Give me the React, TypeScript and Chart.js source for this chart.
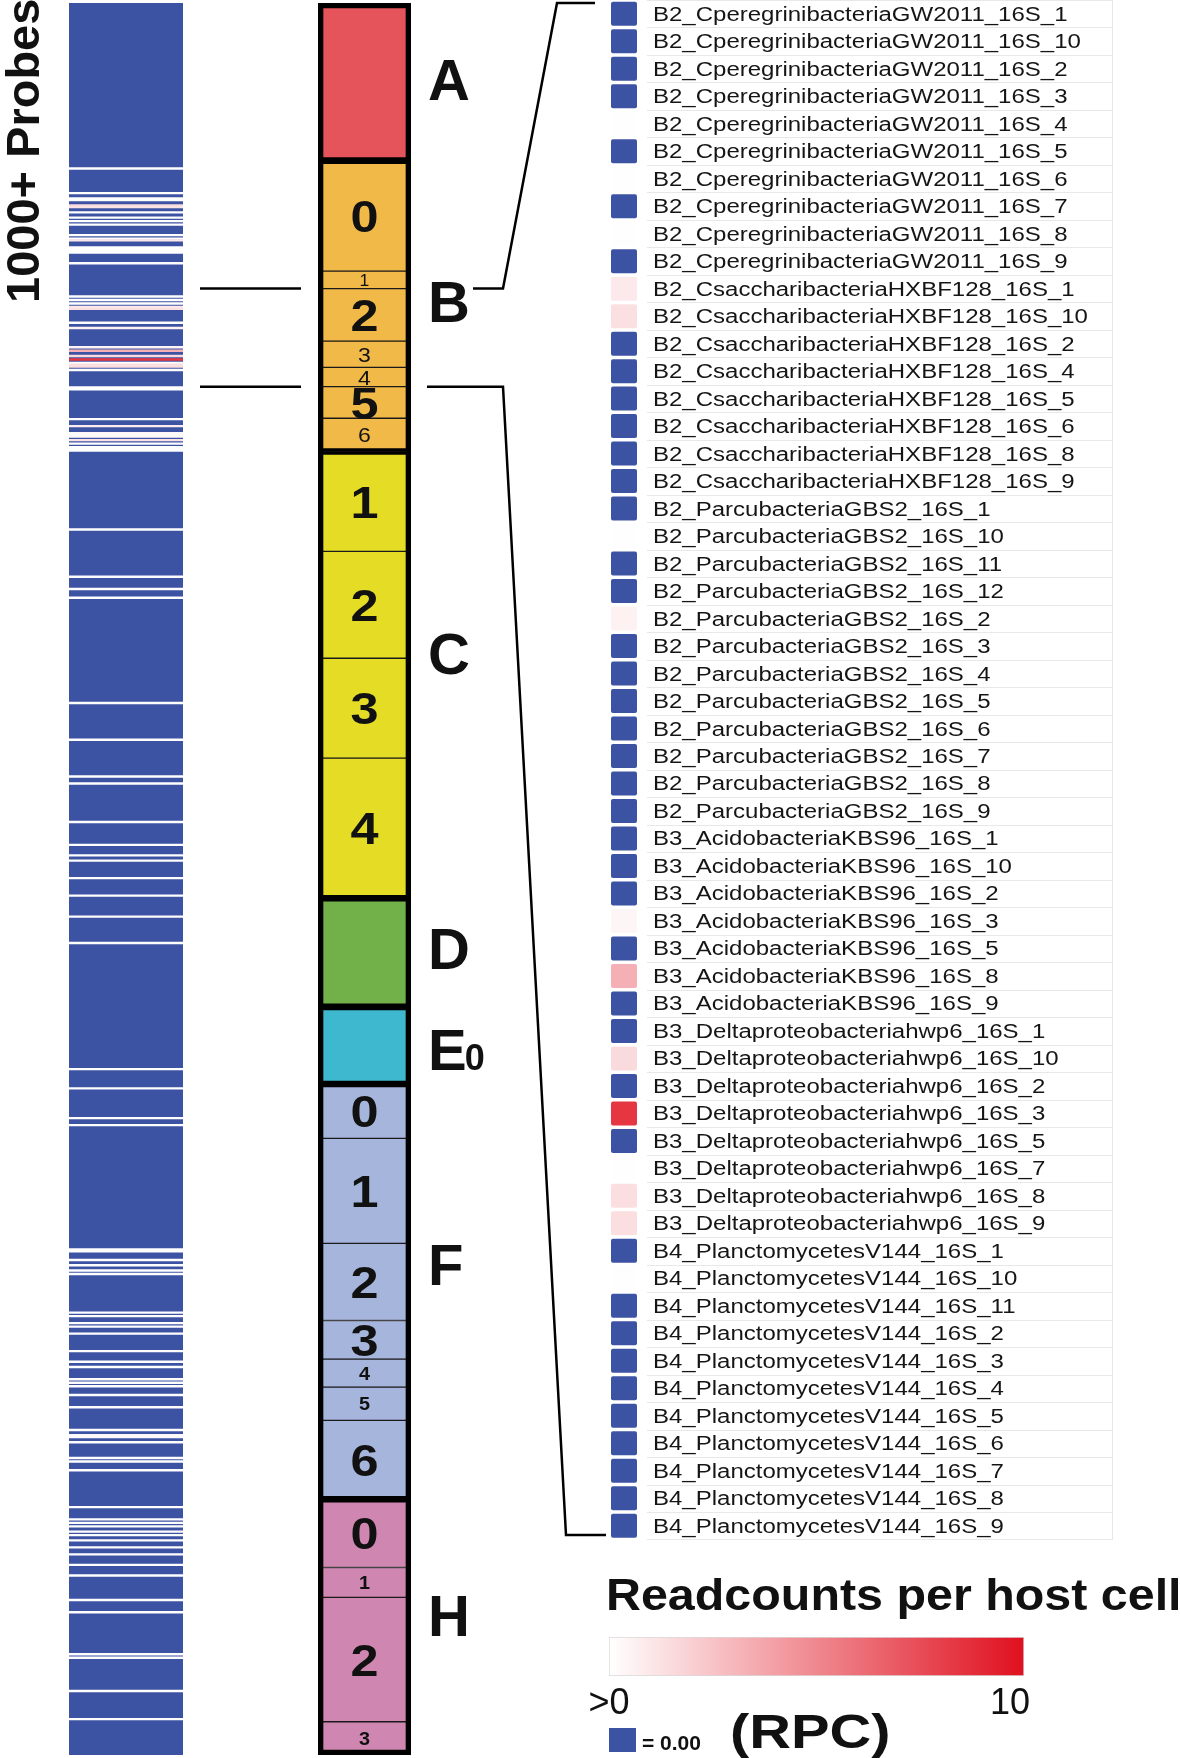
import React, { useEffect, useRef } from 'react';
import { Chart, registerables } from 'chart.js';

Chart.register(...registerables);

// ------------------------------------------------------------------ data
const probeTotal = 1000;
const stripTitle = '1000+ Probes';

// probe groups of the middle column (sizes in probes, top to bottom)
const subgroupGroups = ['A', 'B', 'B', 'B', 'B', 'B', 'B', 'B', 'C', 'C', 'C', 'C', 'D', 'E', 'F', 'F', 'F', 'F', 'F', 'F', 'F', 'H', 'H', 'H', 'H'];
const subgroupLabels = ['', '0', '1', '2', '3', '4', '5', '6', '1', '2', '3', '4', '', '', '0', '1', '2', '3', '4', '5', '6', '0', '1', '2', '3'];
const subgroupSizes = [90, 63, 10, 30, 15, 11, 18, 19, 57, 61, 57, 80, 62, 44, 31, 60, 44, 22, 16, 19, 45, 39, 17, 71, 19];

const groupNames = ['A', 'B', 'C', 'D', 'E', 'F', 'H'];
const groupSubscripts = ['', '', '', '', '0', '', ''];

// zoomed probes (B2, B3, B4), starting at this probe index
const zoomFirstProbe = 163;
const zoomProbeNames = [
  'B2_CperegrinibacteriaGW2011_16S_1', 'B2_CperegrinibacteriaGW2011_16S_10', 'B2_CperegrinibacteriaGW2011_16S_2',
  'B2_CperegrinibacteriaGW2011_16S_3', 'B2_CperegrinibacteriaGW2011_16S_4', 'B2_CperegrinibacteriaGW2011_16S_5',
  'B2_CperegrinibacteriaGW2011_16S_6', 'B2_CperegrinibacteriaGW2011_16S_7', 'B2_CperegrinibacteriaGW2011_16S_8',
  'B2_CperegrinibacteriaGW2011_16S_9',
  'B2_CsaccharibacteriaHXBF128_16S_1', 'B2_CsaccharibacteriaHXBF128_16S_10', 'B2_CsaccharibacteriaHXBF128_16S_2',
  'B2_CsaccharibacteriaHXBF128_16S_4', 'B2_CsaccharibacteriaHXBF128_16S_5', 'B2_CsaccharibacteriaHXBF128_16S_6',
  'B2_CsaccharibacteriaHXBF128_16S_8', 'B2_CsaccharibacteriaHXBF128_16S_9',
  'B2_ParcubacteriaGBS2_16S_1', 'B2_ParcubacteriaGBS2_16S_10', 'B2_ParcubacteriaGBS2_16S_11', 'B2_ParcubacteriaGBS2_16S_12',
  'B2_ParcubacteriaGBS2_16S_2', 'B2_ParcubacteriaGBS2_16S_3', 'B2_ParcubacteriaGBS2_16S_4', 'B2_ParcubacteriaGBS2_16S_5',
  'B2_ParcubacteriaGBS2_16S_6', 'B2_ParcubacteriaGBS2_16S_7', 'B2_ParcubacteriaGBS2_16S_8', 'B2_ParcubacteriaGBS2_16S_9',
  'B3_AcidobacteriaKBS96_16S_1', 'B3_AcidobacteriaKBS96_16S_10', 'B3_AcidobacteriaKBS96_16S_2', 'B3_AcidobacteriaKBS96_16S_3',
  'B3_AcidobacteriaKBS96_16S_5', 'B3_AcidobacteriaKBS96_16S_8', 'B3_AcidobacteriaKBS96_16S_9',
  'B3_Deltaproteobacteriahwp6_16S_1', 'B3_Deltaproteobacteriahwp6_16S_10', 'B3_Deltaproteobacteriahwp6_16S_2',
  'B3_Deltaproteobacteriahwp6_16S_3', 'B3_Deltaproteobacteriahwp6_16S_5', 'B3_Deltaproteobacteriahwp6_16S_7',
  'B3_Deltaproteobacteriahwp6_16S_8', 'B3_Deltaproteobacteriahwp6_16S_9',
  'B4_PlanctomycetesV144_16S_1', 'B4_PlanctomycetesV144_16S_10', 'B4_PlanctomycetesV144_16S_11', 'B4_PlanctomycetesV144_16S_2',
  'B4_PlanctomycetesV144_16S_3', 'B4_PlanctomycetesV144_16S_4', 'B4_PlanctomycetesV144_16S_5', 'B4_PlanctomycetesV144_16S_6',
  'B4_PlanctomycetesV144_16S_7', 'B4_PlanctomycetesV144_16S_8', 'B4_PlanctomycetesV144_16S_9',
];
const zoomProbeRpc = [
  0, 0, 0, 0, 0.05, 0, 0.05, 0, 0.05, 0,
  0.9, 1.3, 0, 0, 0, 0, 0, 0,
  0, 0.05, 0, 0, 0.6, 0, 0, 0, 0, 0, 0, 0,
  0, 0, 0, 0.4, 0, 3.3, 0,
  0, 1.5, 0, 8.4, 0, 0.05, 1.4, 1.4,
  0, 0.05, 0, 0, 0, 0, 0, 0, 0, 0, 0,
];

// other probes of the left strip with RPC > 0 (all others are 0)
const stripProbeIndex = [
  94, 108, 111, 112, 115, 116, 119, 122, 124, 126,
  132, 134, 135, 139, 140, 141, 142, 148, 219, 220,
  237, 241, 245, 246, 247, 249, 251, 253, 254, 255,
  300, 327, 334, 339, 399, 420, 441, 445, 467, 480,
  486, 489, 499, 509, 521, 536, 608, 619, 636, 640,
  711, 712, 717, 720, 723, 725, 747, 749, 753, 755,
  759, 769, 775, 778, 785, 787, 789, 794, 801, 814,
  817, 818, 821, 830, 832, 837, 858, 865, 867, 869,
  872, 874, 877, 881, 885, 891, 897, 911, 918, 942,
  944, 963, 979,
];
const stripProbeRpc = [
  0.05, 0.05, 0.05, 0.05, 1.5, 1.2, 0.05, 0.05, 0.05, 0.05,
  0.05, 0.05, 1.0, 0.05, 0.05, 0.05, 0.05, 0.05, 0.05, 0.05,
  0.05, 0.8, 0.3, 0.2, 0.3, 1.2, 0.05, 0.05, 0.05, 0.05,
  0.05, 0.05, 0.05, 0.05, 0.05, 0.05, 0.05, 0.05, 0.05, 0.05,
  0.05, 0.05, 0.05, 0.05, 0.05, 0.05, 0.05, 0.05, 0.05, 0.05,
  0.05, 0.05, 0.05, 0.05, 0.05, 0.05, 0.05, 0.05, 0.05, 0.05,
  0.05, 0.05, 0.05, 0.05, 0.05, 0.05, 0.05, 0.05, 0.05, 0.05,
  0.3, 0.2, 0.05, 0.05, 0.05, 0.05, 0.05, 0.05, 0.05, 0.05,
  0.05, 0.05, 0.05, 0.05, 0.05, 0.05, 0.05, 0.05, 0.05, 0.05,
  0.05, 0.05, 0.05,
];

// colour legend
const legendTitle = 'Readcounts per host cell';
const legendMin = 0;
const legendMax = 10;
const legendTickLabels = ['>0', '10'];
const legendUnit = '(RPC)';
const legendZeroLabel = '= 0.00';

// ------------------------------------------------------------------ styles
const FONT = '"Liberation Sans", Arial, Helvetica, sans-serif';
const BLUE = '#3c53a3';
const INK = '#111111';
const GROUP_COLORS: Record<string, string> = {
  A: '#e5545b', B: '#f1b947', C: '#e4dc25', D: '#72b14a', E: '#3eb8ce', F: '#a5b5db', H: '#cf86b1',
};
const GROUP_LABEL_SHIFT: Record<string, number> = { A: -3, B: -5, C: -22, D: -4, E: 4, F: -27, H: -12 };
const SUB_STYLE: Record<string, { size: number; weight: string; sx: number }> = {
  big: { size: 45, weight: 'bold', sx: 1.12 },
  small: { size: 21, weight: 'normal', sx: 1.1 },
  smallBold: { size: 18, weight: 'bold', sx: 1.1 },
  tiny: { size: 16, weight: 'normal', sx: 1.1 },
};
const SUB_KIND = ['', 'big', 'tiny', 'big', 'small', 'small', 'big', 'small', 'big', 'big', 'big', 'big', '', '',
  'big', 'big', 'big', 'big', 'smallBold', 'smallBold', 'big', 'big', 'smallBold', 'big', 'smallBold'];

const STRIP_BOX = { left: 0, top: 0, width: 183, height: 1758 };
const COL_BOX = { left: 190, top: 0, width: 420, height: 1758 };
const LIST_BOX = { left: 600, top: 0, width: 580, height: 1541 };
const LEGEND_BOX = { left: 580, top: 1560, width: 600, height: 198 };

// ------------------------------------------------------------------ helpers
function rpcColor(v: number): string {
  if (v <= 0) return BLUE;
  const t = Math.min(v / legendMax, 1);
  const r = Math.round(255 + (224 - 255) * t);
  const g = Math.round(255 + (16 - 255) * t);
  const b = Math.round(255 + (30 - 255) * t);
  return `rgb(${r},${g},${b})`;
}

function drawText(ctx: CanvasRenderingContext2D, text: string, x: number, y: number, font: string,
  align: CanvasTextAlign = 'left', sx = 1, color = INK) {
  ctx.save();
  ctx.font = font;
  ctx.fillStyle = color;
  ctx.textAlign = align;
  ctx.textBaseline = 'alphabetic';
  ctx.translate(x, y);
  ctx.scale(sx, 1);
  ctx.fillText(text, 0, 0);
  ctx.restore();
}

function polyline(ctx: CanvasRenderingContext2D, pts: number[][], dx: number, dy: number, w = 2.5) {
  ctx.save();
  ctx.strokeStyle = '#000';
  ctx.lineWidth = w;
  ctx.lineJoin = 'miter';
  ctx.beginPath();
  pts.forEach(([x, y], i) => (i === 0 ? ctx.moveTo(x - dx, y - dy) : ctx.lineTo(x - dx, y - dy)));
  ctx.stroke();
  ctx.restore();
}

const subRanges: number[][] = (() => {
  let s = 0;
  return subgroupSizes.map((n) => { const r = [s, s + n]; s += n; return r; });
})();
const groupRanges: number[][] = groupNames.map((g) => {
  const idx = subgroupGroups.map((sg, i) => (sg === g ? i : -1)).filter((i) => i >= 0);
  return [subRanges[idx[0]][0], subRanges[idx[idx.length - 1]][1]];
});

const stripNonZero = [
  ...stripProbeIndex.map((p, i) => ({ p, v: stripProbeRpc[i] })),
  ...zoomProbeRpc.map((v, i) => ({ p: zoomFirstProbe + i, v })).filter((d) => d.v > 0),
];

const baseOptions = {
  animation: false as const,
  responsive: false,
  events: [] as any[],
  plugins: { legend: { display: false }, tooltip: { enabled: false }, title: { display: false } },
};
const barOpts = { grouped: false, barPercentage: 1, categoryPercentage: 1, borderWidth: 0 };

// ------------------------------------------------------------------ charts
function buildStrip(): any {
  return {
    type: 'bar',
    data: {
      labels: ['probes'],
      datasets: [
        { ...barOpts, order: 2, data: [{ x: 'probes', y: [0, probeTotal] }], backgroundColor: BLUE },
        {
          ...barOpts,
          order: 1,
          data: stripNonZero.map((d) => ({ x: 'probes', y: [d.p, d.p + 1] })),
          backgroundColor: stripNonZero.map((d) => rpcColor(d.v)),
        },
      ],
    },
    options: {
      ...baseOptions,
      layout: { padding: { left: 69, right: 0, top: 3, bottom: 3 } },
      scales: {
        x: { display: false },
        y: { display: false, min: 0, max: probeTotal, reverse: true },
      },
    },
    plugins: [{
      id: 'stripTitle',
      afterDraw(chart: any) {
        const ctx = chart.ctx as CanvasRenderingContext2D;
        ctx.save();
        ctx.translate(39, 303);
        ctx.rotate(-Math.PI / 2);
        drawText(ctx, stripTitle, 0, 0, `bold 47px ${FONT}`, 'left', 1);
        ctx.restore();
      },
    }],
  };
}

function buildColumn(): any {
  return {
    type: 'bar',
    data: {
      labels: ['col'],
      datasets: [
        {
          ...barOpts,
          order: 3,
          data: subRanges.map((r) => ({ x: 'col', y: r })),
          backgroundColor: subgroupGroups.map((g) => GROUP_COLORS[g]),
          borderColor: '#1a1a1a',
          borderWidth: 1,
          borderSkipped: false,
        },
        {
          ...barOpts,
          order: 2,
          data: groupRanges.map((r) => ({ x: 'col', y: r })),
          backgroundColor: 'rgba(0,0,0,0)',
          borderColor: '#000',
          borderWidth: 3,
          borderSkipped: false,
        },
        {
          ...barOpts,
          order: 1,
          data: [{ x: 'col', y: [0, probeTotal] }],
          backgroundColor: 'rgba(0,0,0,0)',
          borderColor: '#000',
          borderWidth: 5,
          borderSkipped: false,
        },
      ],
    },
    options: {
      ...baseOptions,
      layout: { padding: { left: 128, right: 199, top: 3, bottom: 3 } },
      scales: {
        x: { display: false },
        y: { display: false, min: 0, max: probeTotal, reverse: true },
      },
    },
    plugins: [{
      id: 'columnDecor',
      afterDatasetsDraw(chart: any) {
        const ctx = chart.ctx as CanvasRenderingContext2D;
        const a = chart.chartArea;
        const y = chart.scales.y;
        const cx = (a.left + a.right) / 2;
        subRanges.forEach(([s, e], i) => {
          const lbl = subgroupLabels[i];
          if (!lbl) return;
          const st = SUB_STYLE[SUB_KIND[i]];
          const yc = (y.getPixelForValue(s) + y.getPixelForValue(e)) / 2;
          drawText(ctx, lbl, cx, yc + st.size * 0.358, `${st.weight} ${st.size}px ${FONT}`, 'center', st.sx);
        });
        groupRanges.forEach(([s, e], i) => {
          const g = groupNames[i];
          const yc = (y.getPixelForValue(s) + y.getPixelForValue(e)) / 2 + GROUP_LABEL_SHIFT[g];
          const x0 = a.right + 17;
          const base = yc + 58 * 0.358;
          drawText(ctx, g, x0, base, `bold 58px ${FONT}`, 'left');
          if (groupSubscripts[i]) {
            ctx.save();
            ctx.font = `bold 58px ${FONT}`;
            const w = ctx.measureText(g).width;
            ctx.restore();
            drawText(ctx, groupSubscripts[i], x0 + w - 2, base, `bold 36px ${FONT}`, 'left');
          }
        });
        // connectors between strip, column and zoomed list (page coordinates)
        const dx = COL_BOX.left;
        const dy = COL_BOX.top;
        const yTop = y.getPixelForValue(zoomFirstProbe) + dy;
        const yBot = y.getPixelForValue(zoomFirstProbe + zoomProbeNames.length) + dy;
        polyline(ctx, [[200, yTop], [301, yTop]], dx, dy);
        polyline(ctx, [[200, yBot], [301, yBot]], dx, dy);
        polyline(ctx, [[473, yTop], [503, yTop], [557, 3], [595, 3]], dx, dy);
        polyline(ctx, [[427, yBot], [503, yBot], [566, 1535], [606, 1535]], dx, dy);
      },
    }],
  };
}

function buildList(): any {
  return {
    type: 'bar',
    data: {
      labels: zoomProbeNames,
      datasets: [{
        data: zoomProbeNames.map(() => [0, 1]),
        backgroundColor: zoomProbeRpc.map((v) => rpcColor(v)),
        barPercentage: 0.873,
        categoryPercentage: 1,
        borderRadius: 2,
        borderSkipped: false,
        borderWidth: 0,
      }],
    },
    options: {
      ...baseOptions,
      indexAxis: 'y',
      layout: { padding: { left: 11, right: 543, top: 0, bottom: 1.5 } },
      scales: {
        x: { display: false, min: 0, max: 1 },
        y: { display: false },
      },
    },
    plugins: [{
      id: 'listDecor',
      beforeDatasetsDraw(chart: any) {
        const ctx = chart.ctx as CanvasRenderingContext2D;
        const y = chart.scales.y;
        const n = zoomProbeNames.length;
        const pitch = y.getPixelForValue(1) - y.getPixelForValue(0);
        const gl = 647 - LIST_BOX.left;
        const gr = 1112 - LIST_BOX.left;
        ctx.save();
        ctx.strokeStyle = '#e8e8e8';
        ctx.lineWidth = 1;
        ctx.beginPath();
        for (let i = 0; i <= n; i++) {
          const yy = Math.round(y.getPixelForValue(i) - pitch / 2) + 0.5;
          ctx.moveTo(gl, yy);
          ctx.lineTo(gr, yy);
        }
        const t = Math.round(y.getPixelForValue(0) - pitch / 2);
        const b = Math.round(y.getPixelForValue(n - 1) + pitch / 2);
        ctx.moveTo(gr + 0.5, t);
        ctx.lineTo(gr + 0.5, b);
        ctx.stroke();
        ctx.restore();
      },
      afterDatasetsDraw(chart: any) {
        const ctx = chart.ctx as CanvasRenderingContext2D;
        const y = chart.scales.y;
        const tx = 653 - LIST_BOX.left;
        zoomProbeNames.forEach((name, i) => {
          drawText(ctx, name, tx, y.getPixelForValue(i) + 7, `20px ${FONT}`, 'left', 1.2, '#151515');
        });
      },
    }],
  };
}

function buildLegend(): any {
  return {
    type: 'bar',
    data: {
      labels: ['RPC'],
      datasets: [{
        data: [[legendMin, legendMax]],
        backgroundColor: (c: any) => {
          const area = c.chart.chartArea;
          if (!area) return rpcColor(legendMax);
          const g = c.chart.ctx.createLinearGradient(area.left, 0, area.right, 0);
          g.addColorStop(0, '#ffffff');
          g.addColorStop(1, rpcColor(legendMax));
          return g;
        },
        borderColor: '#d9d9d9',
        borderWidth: 1,
        borderSkipped: false,
        barPercentage: 1,
        categoryPercentage: 1,
      }],
    },
    options: {
      ...baseOptions,
      indexAxis: 'y',
      layout: { padding: { left: 29, right: 156, top: 77, bottom: 82 } },
      scales: {
        x: { display: false, min: legendMin, max: legendMax },
        y: { display: false },
      },
    },
    plugins: [{
      id: 'legendDecor',
      afterDatasetsDraw(chart: any) {
        const ctx = chart.ctx as CanvasRenderingContext2D;
        const x = chart.scales.x;
        const ox = LEGEND_BOX.left;
        const oy = LEGEND_BOX.top;
        drawText(ctx, legendTitle, 606 - ox, 1610 - oy, `bold 44px ${FONT}`, 'left', 1.1);
        drawText(ctx, legendTickLabels[0], x.getPixelForValue(legendMin), 1714 - oy, `36px ${FONT}`, 'center', 1);
        drawText(ctx, legendTickLabels[1], x.getPixelForValue(legendMax) - 14, 1714 - oy, `36px ${FONT}`, 'center', 1);
        drawText(ctx, legendUnit, 730 - ox, 1748 - oy, `bold 49px ${FONT}`, 'left', 1.18);
        ctx.save();
        ctx.fillStyle = BLUE;
        ctx.fillRect(609 - ox, 1728 - oy, 27, 24);
        ctx.restore();
        drawText(ctx, legendZeroLabel, 642 - ox, 1750 - oy, `bold 21px ${FONT}`, 'left', 1);
      },
    }],
  };
}

// ------------------------------------------------------------------ components
function ChartBox({ box, build }: { box: { left: number; top: number; width: number; height: number }; build: () => any }) {
  const ref = useRef<HTMLCanvasElement | null>(null);
  useEffect(() => {
    if (!ref.current) return;
    const chart = new Chart(ref.current, build());
    return () => chart.destroy();
  }, []);
  return (
    <canvas
      ref={ref}
      width={box.width}
      height={box.height}
      style={{ position: 'absolute', left: box.left, top: box.top, width: box.width, height: box.height, display: 'block' }}
    />
  );
}

export default function App() {
  return (
    <div style={{ position: 'absolute', left: 0, top: 0, width: 1180, height: 1758, background: '#ffffff', overflow: 'hidden' }}>
      <ChartBox box={STRIP_BOX} build={buildStrip} />
      <ChartBox box={COL_BOX} build={buildColumn} />
      <ChartBox box={LIST_BOX} build={buildList} />
      <ChartBox box={LEGEND_BOX} build={buildLegend} />
    </div>
  );
}
